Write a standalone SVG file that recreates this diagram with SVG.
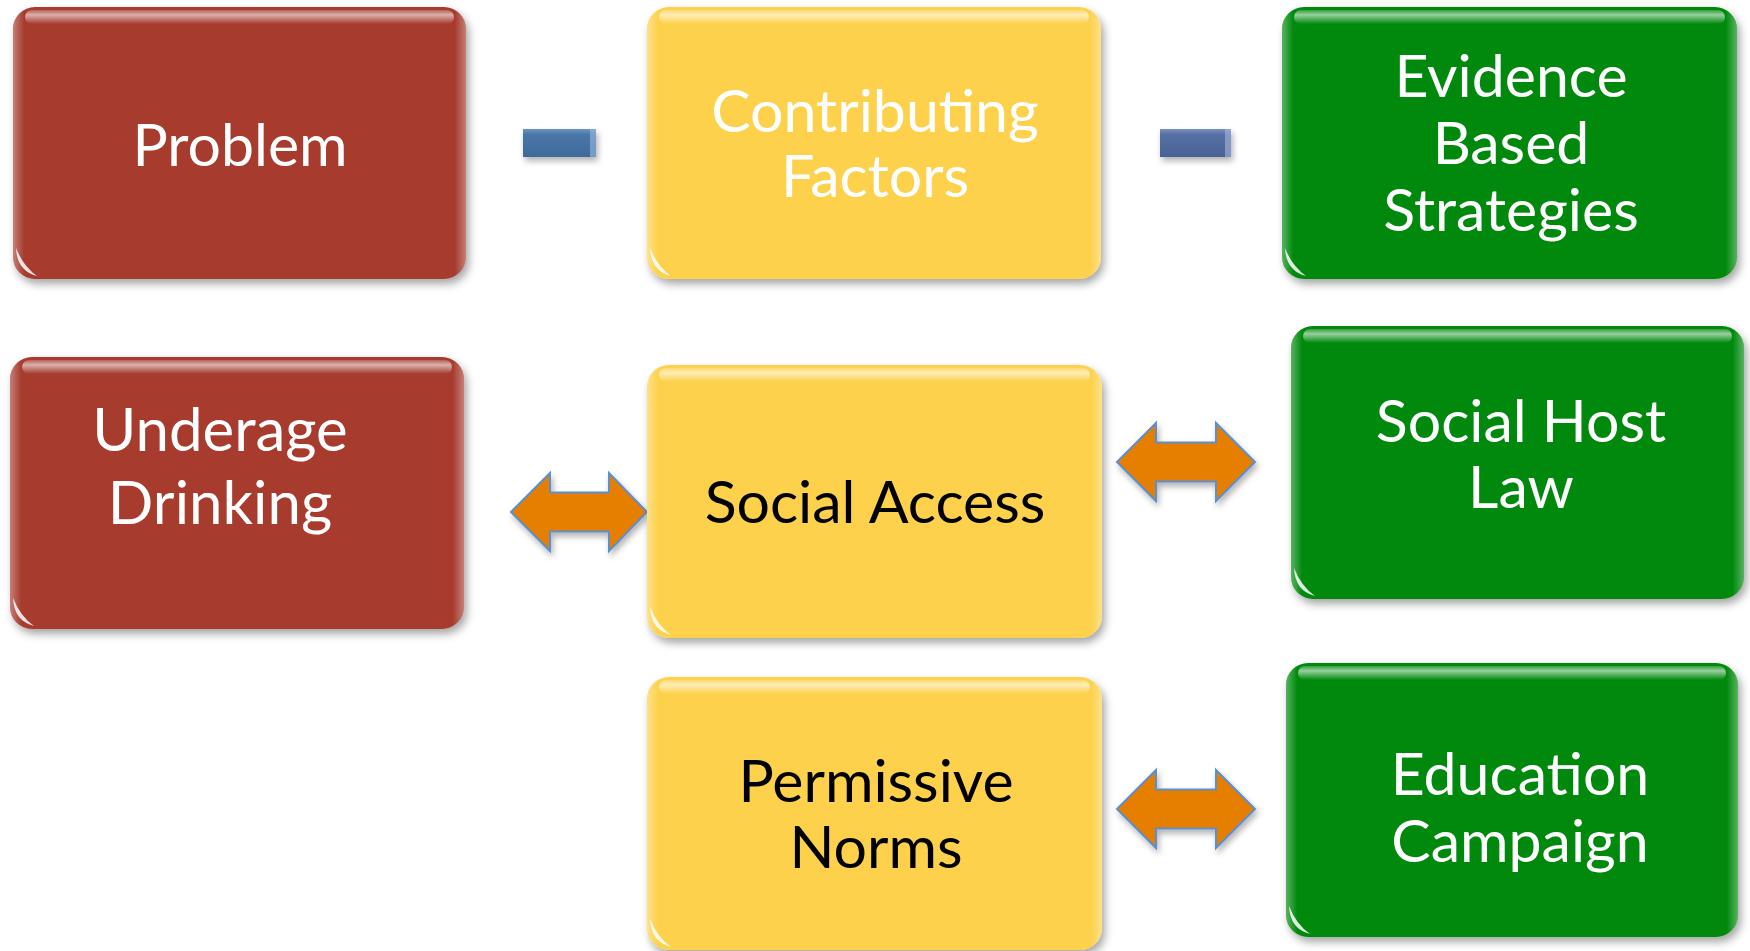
<svg xmlns="http://www.w3.org/2000/svg" width="1750" height="951" viewBox="0 0 1750 951">
<style>
  .lbl{font-family:Lato,"Noto Sans","Liberation Sans",sans-serif;font-size:59px;text-anchor:middle}
  .w{fill:#ffffff}
  .k{fill:#000000}
  .red{fill:#A63A2F}
  .yel{fill:#FDD14B}
  .grn{fill:#02890A}
  .edge{fill:url(#edgeG)}
  .band{fill:url(#bandG)}
  .gloss{fill:#ffffff;opacity:0.85}
  .arr{fill:#E67E00;stroke:#5B8FD0;stroke-width:2;stroke-linejoin:miter}
</style>
<defs>
  <filter id="sh" x="-10%" y="-10%" width="125%" height="130%">
    <feDropShadow dx="3" dy="5" stdDeviation="4" flood-color="#000" flood-opacity="0.35"/>
  </filter>
  <filter id="shs" x="-20%" y="-20%" width="150%" height="160%">
    <feDropShadow dx="2" dy="4" stdDeviation="3" flood-color="#000" flood-opacity="0.3"/>
  </filter>
  <linearGradient id="edgeG" x1="0" y1="0" x2="1" y2="0">
    <stop offset="0" stop-color="#fff" stop-opacity="0.35"/>
    <stop offset="0.025" stop-color="#fff" stop-opacity="0"/>
    <stop offset="0.975" stop-color="#fff" stop-opacity="0"/>
    <stop offset="1" stop-color="#fff" stop-opacity="0.35"/>
  </linearGradient>
  <linearGradient id="bandG" x1="0" y1="0" x2="0" y2="1">
    <stop offset="0" stop-color="#fff" stop-opacity="0.2"/>
    <stop offset="0.35" stop-color="#fff" stop-opacity="0.6"/>
    <stop offset="1" stop-color="#fff" stop-opacity="0"/>
  </linearGradient>
  <linearGradient id="blueA" x1="0" y1="0" x2="0" y2="1">
    <stop offset="0" stop-color="#6F95C4"/>
    <stop offset="0.2" stop-color="#4A77A8"/>
    <stop offset="1" stop-color="#3E6A9A"/>
  </linearGradient>
  <linearGradient id="blueB" x1="0" y1="0" x2="0" y2="1">
    <stop offset="0" stop-color="#7C8FC2"/>
    <stop offset="0.2" stop-color="#5670A4"/>
    <stop offset="1" stop-color="#4A6296"/>
  </linearGradient>
</defs>

<g id="connectors">
  <g filter="url(#shs)">
    <rect x="523" y="129" width="73" height="28" fill="url(#blueA)"/>
    <rect x="590" y="129" width="6" height="28" fill="#9DBBE0" opacity="0.6"/>
  </g>
  <g filter="url(#shs)">
    <rect x="1160" y="129" width="71" height="28" fill="url(#blueB)"/>
    <rect x="1225" y="129" width="6" height="28" fill="#A8B6E0" opacity="0.6"/>
  </g>
  <path class="arr" filter="url(#shs)" d="M511,512 L550,473 L550,492.5 L609,492.5 L609,473 L647,512 L609,551 L609,531.5 L550,531.5 L550,551 Z"/>
  <path class="arr" filter="url(#shs)" d="M1117,462 L1156,423 L1156,442.5 L1216,442.5 L1216,423 L1255,462 L1216,501 L1216,481.5 L1156,481.5 L1156,501 Z"/>
  <path class="arr" filter="url(#shs)" d="M1117,809 L1156,770 L1156,789.5 L1216,789.5 L1216,770 L1255,809 L1216,848 L1216,828.5 L1156,828.5 L1156,848 Z"/>
</g>

<g id="problem">
  <rect class="red" filter="url(#sh)" x="13" y="7" width="453" height="272" rx="22"/>
  <rect class="edge" x="13" y="7" width="453" height="272" rx="22"/>
  <rect class="band" x="25" y="10" width="429" height="14" rx="7"/>
  <path class="gloss" d="M16,248 Q17,271 37,276 Q23,266 16,248 Z"/>
  <text class="lbl w" x="240" y="166">Problem</text>
</g>

<g id="contributing-factors">
  <rect class="yel" filter="url(#sh)" x="647" y="7" width="454" height="272" rx="22"/>
  <rect class="edge" x="647" y="7" width="454" height="272" rx="22"/>
  <rect class="band" x="659" y="10" width="430" height="14" rx="7"/>
  <path class="gloss" d="M650,248 Q651,271 671,276 Q657,266 650,248 Z"/>
  <text class="lbl w" x="875" y="132">Contributing</text>
  <text class="lbl w" x="875" y="197">Factors</text>
</g>

<g id="evidence-based-strategies">
  <rect class="grn" filter="url(#sh)" x="1282" y="7" width="455" height="272" rx="22"/>
  <rect class="edge" x="1282" y="7" width="455" height="272" rx="22"/>
  <rect class="band" x="1294" y="10" width="431" height="14" rx="7"/>
  <path class="gloss" d="M1285,248 Q1286,271 1306,276 Q1292,266 1285,248 Z"/>
  <text class="lbl w" x="1511" y="97">Evidence</text>
  <text class="lbl w" x="1511" y="164">Based</text>
  <text class="lbl w" x="1511" y="231">Strategies</text>
</g>

<g id="underage-drinking">
  <rect class="red" filter="url(#sh)" x="10" y="357" width="454" height="272" rx="22"/>
  <rect class="edge" x="10" y="357" width="454" height="272" rx="22"/>
  <rect class="band" x="22" y="360" width="430" height="14" rx="7"/>
  <path class="gloss" d="M13,598 Q14,621 34,626 Q20,616 13,598 Z"/>
  <text class="lbl w" x="220" y="451" style="font-size:60px">Underage</text>
  <text class="lbl w" x="220" y="524" style="font-size:60px">Drinking</text>
</g>

<g id="social-access">
  <rect class="yel" filter="url(#sh)" x="647" y="365" width="455" height="273" rx="22"/>
  <rect class="edge" x="647" y="365" width="455" height="273" rx="22"/>
  <rect class="band" x="659" y="368" width="431" height="14" rx="7"/>
  <path class="gloss" d="M650,607 Q651,630 671,635 Q657,625 650,607 Z"/>
  <text class="lbl k" x="875" y="523">Social Access</text>
</g>

<g id="social-host-law">
  <rect class="grn" filter="url(#sh)" x="1291" y="326" width="453" height="273" rx="22"/>
  <rect class="edge" x="1291" y="326" width="453" height="273" rx="22"/>
  <rect class="band" x="1303" y="329" width="429" height="14" rx="7"/>
  <path class="gloss" d="M1294,568 Q1295,591 1315,596 Q1301,586 1294,568 Z"/>
  <text class="lbl w" x="1521" y="442">Social Host</text>
  <text class="lbl w" x="1521" y="508">Law</text>
</g>

<g id="permissive-norms">
  <rect class="yel" filter="url(#sh)" x="647" y="677" width="455" height="273" rx="22"/>
  <rect class="edge" x="647" y="677" width="455" height="273" rx="22"/>
  <rect class="band" x="659" y="680" width="431" height="14" rx="7"/>
  <path class="gloss" d="M650,919 Q651,942 671,947 Q657,937 650,919 Z"/>
  <text class="lbl k" x="876" y="802">Permissive</text>
  <text class="lbl k" x="876" y="868">Norms</text>
</g>

<g id="education-campaign">
  <rect class="grn" filter="url(#sh)" x="1286" y="663" width="452" height="274" rx="22"/>
  <rect class="edge" x="1286" y="663" width="452" height="274" rx="22"/>
  <rect class="band" x="1298" y="666" width="428" height="14" rx="7"/>
  <path class="gloss" d="M1289,906 Q1290,929 1310,934 Q1296,924 1289,906 Z"/>
  <text class="lbl w" x="1520" y="795">Education</text>
  <text class="lbl w" x="1520" y="862">Campaign</text>
</g>
</svg>
